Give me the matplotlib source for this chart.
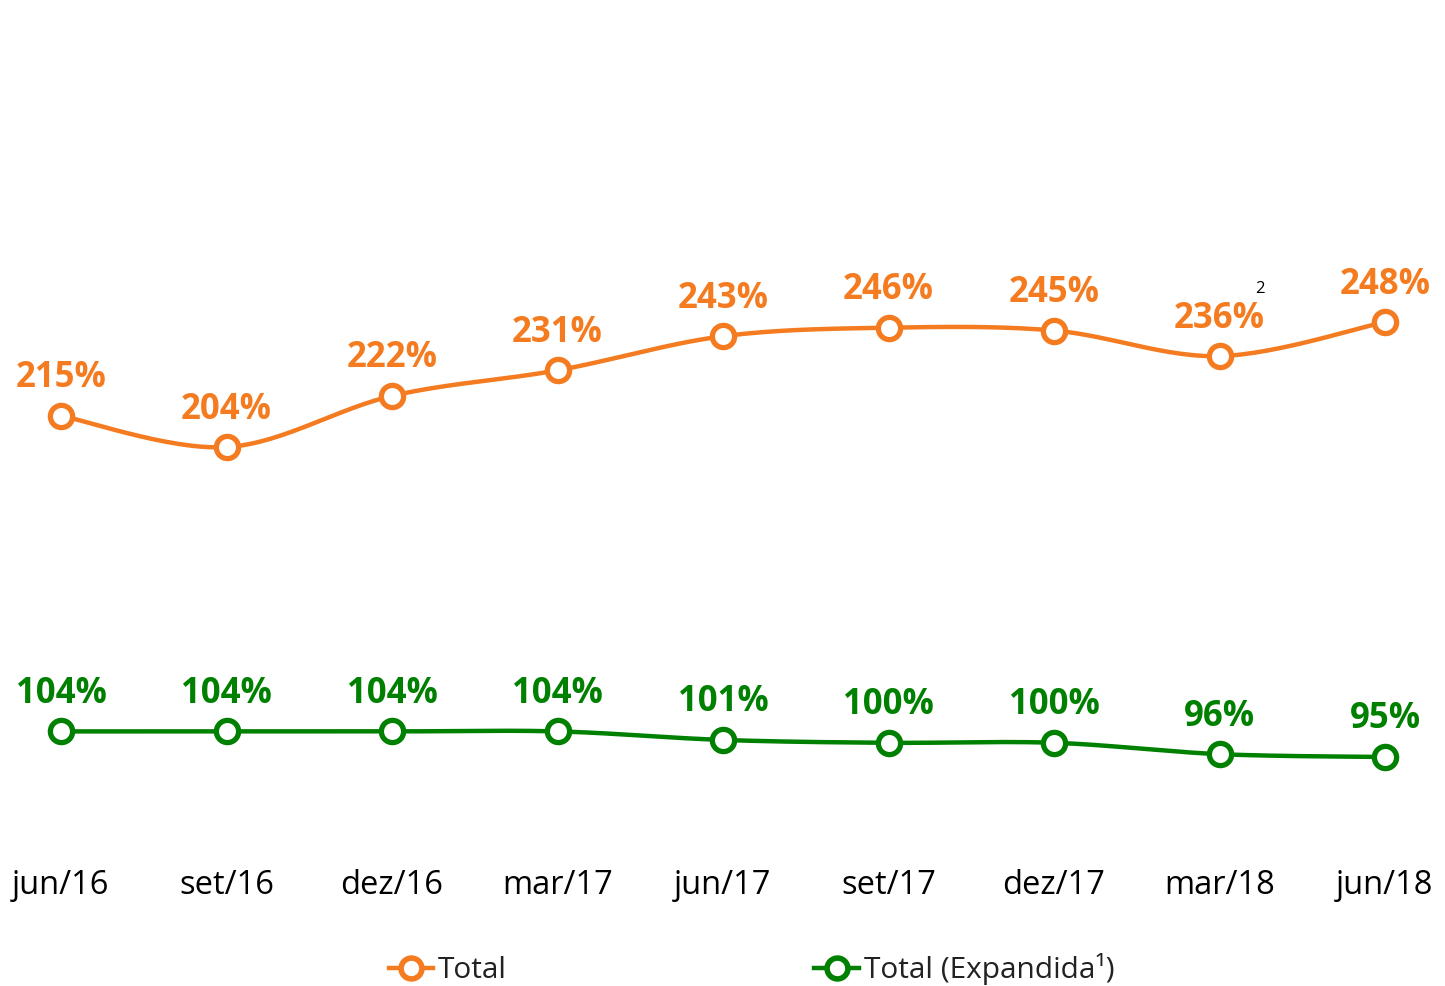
import numpy as np
import matplotlib
matplotlib.use("Agg")
import matplotlib.pyplot as plt
from matplotlib.lines import Line2D

categories = ["jun/16", "set/16", "dez/16", "mar/17", "jun/17", "set/17", "dez/17", "mar/18", "jun/18"]
total = [215, 204, 222, 231, 243, 246, 245, 236, 248]
expandida = [104, 104, 104, 104, 101, 100, 100, 96, 95]
series_names = ["Total", "Total (Expandida¹)"]

ORANGE = "#F47B20"
GREEN = "#008000"
FONT = ["Open Sans", "DejaVu Sans"]
plt.rcParams["font.family"] = FONT

W, H = 1445, 986
fig = plt.figure(figsize=(W / 100, H / 100), dpi=100)
# axes from pixel y=0 to y=850
ax_bottom_px = 850
ax = fig.add_axes([0, 1 - ax_bottom_px / H, 1, ax_bottom_px / H])

px_per_unit = (757 - 322) / (248 - 95)
ytop = 248 + 322 / px_per_unit
ybot = 248 - (ax_bottom_px - 322) / px_per_unit
ax.set_ylim(ybot, ytop)
step = (1385 - 61) / 8
ax.set_xlim(-61 / step, 8 + (W - 1385) / step)


def smooth(x, y, n=30):
    # Catmull-Rom spline through points (visual smoothing of the line)
    x = np.asarray(x, float); y = np.asarray(y, float)
    P = np.column_stack([x * step, y * px_per_unit])
    P = np.vstack([P[0], P, P[-1]])
    out = []
    for i in range(1, len(P) - 2):
        p0, p1, p2, p3 = P[i - 1], P[i], P[i + 1], P[i + 2]
        t = np.linspace(0, 1, n, endpoint=False)[:, None]
        c1 = p1 + (p2 - p0) / 6
        c2 = p2 - (p3 - p1) / 6
        b = ((1 - t) ** 3) * p1 + 3 * ((1 - t) ** 2) * t * c1 + 3 * (1 - t) * t ** 2 * c2 + t ** 3 * p2
        out.append(b)
    out.append(P[-2][None, :])
    out = np.vstack(out)
    return out[:, 0] / step, out[:, 1] / px_per_unit


xs = np.arange(len(categories))
for vals, color in [(total, ORANGE), (expandida, GREEN)]:
    sx, sy = smooth(xs, vals)
    ax.plot(sx, sy, color=color, lw=3.2, solid_capstyle="round", zorder=2)
    ax.plot(xs, vals, ls="none", marker="o", ms=16, mew=3.8, mfc="white", mec=color, zorder=3)
    for x, v in zip(xs, vals):
        ax.annotate(f"{v}%", (x, v), xytext=(0, 27), textcoords="offset points",
                    ha="center", va="center", fontsize=25, fontweight="bold", color=color)

# footnote marker near mar/18 total
ax.annotate("2", (7, total[7]), xytext=(29, 48), textcoords="offset points",
            ha="center", va="center", fontsize=12, color="black")

ax.set_xticks(xs)
ax.set_xticklabels(categories, fontsize=23.5)
ax.tick_params(axis="x", length=0, pad=14)
ax.set_yticks([])
for s in ax.spines.values():
    s.set_visible(False)
ax.patch.set_alpha(0)

handles = [
    Line2D([], [], color=ORANGE, lw=3.2, marker="o", ms=15, mew=4, mfc="white", mec=ORANGE),
    Line2D([], [], color=GREEN, lw=3.2, marker="o", ms=15, mew=4, mfc="white", mec=GREEN),
]
leg = fig.legend(handles, series_names, loc="center", bbox_to_anchor=(0.52, 1 - 969 / H),
                 ncol=2, frameon=False, fontsize=21.5, handlelength=1.5, handletextpad=0.15,
                 columnspacing=10.3)
for t in leg.get_texts():
    t.set_color("#222222")

fig.savefig("out.png", dpi=100)
